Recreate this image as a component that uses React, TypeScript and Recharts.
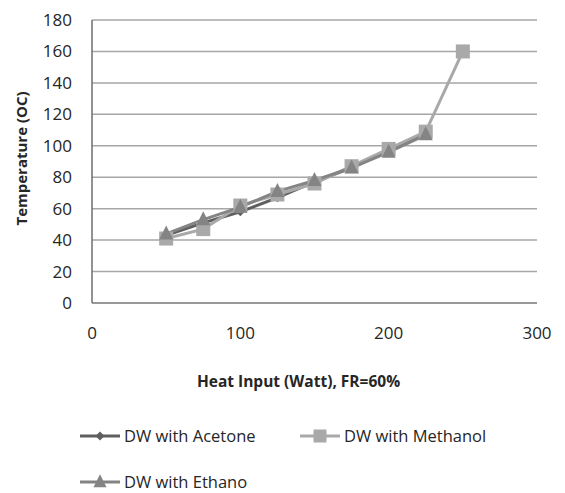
import React from 'react';
import { LineChart, Line, XAxis, YAxis, CartesianGrid, Legend } from 'recharts';

const heatInput = [50, 75, 100, 125, 150, 175, 200, 225, 250];
const acetone = [43, 51, 58, 67, 77, 86, 97, 108, null];
const methanol = [41, 47, 62, 69, 76, 87, 98, 109, 160];
const ethanol = [44, 53, 61, 71, 78, 86, 96, 107, null];
const xTicks = [0, 100, 200, 300];
const yTicks = [0, 20, 40, 60, 80, 100, 120, 140, 160, 180];

const chartData = heatInput.map((x, i) => ({
  x,
  acetone: acetone[i],
  methanol: methanol[i],
  ethanol: ethanol[i],
}));

const FONT = '"Open Sans", "Noto Sans", sans-serif';

const series = [
  { key: 'acetone', name: 'DW with Acetone', color: '#5f5f5f', shape: 'diamond' },
  { key: 'methanol', name: 'DW with Methanol', color: '#a9a9a9', shape: 'square' },
  { key: 'ethanol', name: 'DW with Ethano', color: '#848484', shape: 'triangle' },
];

const Marker = ({ cx, cy, shape, color, size }: any) => {
  if (cx == null || cy == null) return null;
  if (shape === 'square') {
    const s = size || 14;
    return <rect x={cx - s / 2} y={cy - s / 2} width={s} height={s} fill={color} />;
  }
  if (shape === 'triangle') {
    const s = size || 14;
    return (
      <polygon
        points={`${cx},${cy - s * 0.6} ${cx + s / 2},${cy + s * 0.4} ${cx - s / 2},${cy + s * 0.4}`}
        fill={color}
      />
    );
  }
  const s = size || 9;
  return (
    <polygon
      points={`${cx},${cy - s / 2} ${cx + s / 2},${cy} ${cx},${cy + s / 2} ${cx - s / 2},${cy}`}
      fill={color}
    />
  );
};

const LegendItem = ({ item, left, top }: any) => (
  <div style={{ position: 'absolute', left, top, display: 'flex', alignItems: 'center', height: 18 }}>
    <svg width={44} height={18} style={{ display: 'block' }}>
      <line x1={0} y1={9} x2={40} y2={9} stroke={item.color} strokeWidth={3} />
      <Marker cx={20} cy={9} shape={item.shape} color={item.color}
        size={item.shape === 'diamond' ? 9 : 13} />
    </svg>
    <div style={{ fontFamily: FONT, fontSize: 16.5, lineHeight: '18px', height: 18, color: '#262626', whiteSpace: 'nowrap' }}>{item.name}</div>
  </div>
);

const renderLegend = () => (
  <div style={{ position: 'relative', width: 565, height: 64 }}>
    <LegendItem item={series[0]} left={80} top={0} />
    <LegendItem item={series[1]} left={300} top={0} />
    <LegendItem item={series[2]} left={80} top={46} />
  </div>
);

export default function App() {
  return (
    <div style={{ position: 'absolute', left: 0, top: 0, width: 565, height: 493, background: '#fff', overflow: 'hidden' }}>
      <LineChart
        width={565}
        height={493}
        data={chartData}
        margin={{ top: 20, right: 28, left: 0, bottom: 56 }}
      >
        <CartesianGrid horizontal vertical={false} stroke="#a6a6a6" strokeWidth={1.5} />
        <XAxis
          dataKey="x"
          type="number"
          domain={[0, 300]}
          ticks={xTicks}
          interval={0}
          tickLine={false}
          axisLine={{ stroke: '#8c8c8c', strokeWidth: 1.5 }}
          tick={{ fontFamily: FONT, fontSize: 17, fill: '#262626' }}
          tickMargin={18}
          height={70}
          label={{
            value: 'Heat Input (Watt), FR=60%',
            position: 'insideBottom',
            offset: 0,
            dx: -16,
            dy: 14,
            style: { fontFamily: FONT, fontSize: 15.5, fontWeight: 700, fill: '#262626' },
          }}
        />
        <YAxis
          type="number"
          domain={[0, 180]}
          ticks={yTicks}
          interval={0}
          width={92}
          tickLine={false}
          axisLine={{ stroke: '#6e6e6e', strokeWidth: 1.5 }}
          tick={{ fontFamily: FONT, fontSize: 17, fill: '#262626' }}
          tickMargin={14}
          label={{
            value: 'Temperature (OC)',
            angle: -90,
            position: 'insideLeft',
            offset: 22,
            dy: -3,
            style: { fontFamily: FONT, fontSize: 15, fontWeight: 700, fill: '#262626', textAnchor: 'middle' },
          }}
        />
        <YAxis
          yAxisId="right"
          orientation="right"
          width={0}
          tick={false}
          tickLine={false}
          axisLine={{ stroke: '#555555', strokeWidth: 1.5 }}
        />
        <Legend verticalAlign="bottom" content={renderLegend} wrapperStyle={{ left: 0, width: 565, height: 64, top: 427 }} />
        {series.map((s) => (
          <Line
            key={s.key}
            type="linear"
            dataKey={s.key}
            name={s.name}
            stroke={s.color}
            strokeWidth={3}
            isAnimationActive={false}
            connectNulls={false}
            dot={(p: any) => <Marker key={`${s.key}-${p.index}`} cx={p.cx} cy={p.cy} shape={s.shape} color={s.color} />}
            activeDot={false}
          />
        ))}
      </LineChart>
    </div>
  );
}
